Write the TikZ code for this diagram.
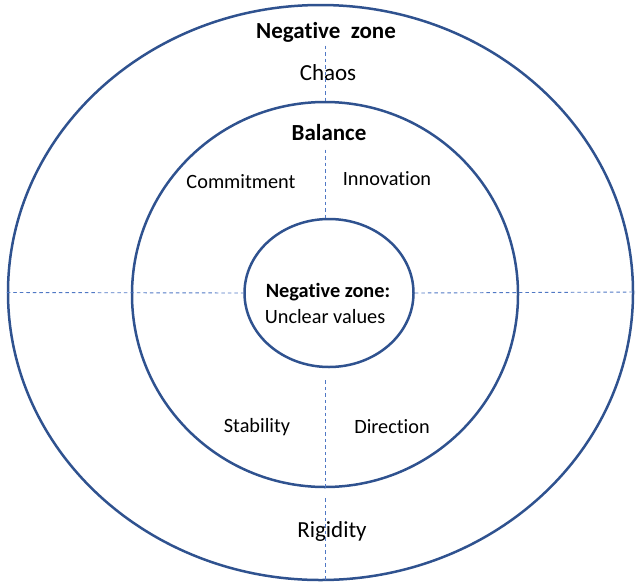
\documentclass[tikz,border=0pt]{standalone}
\usepackage{fontspec}
\setmainfont{Carlito}[Ligatures=NoCommon]
\usetikzlibrary{shapes.geometric}
\definecolor{ringblue}{RGB}{47,82,143}
\definecolor{axisblue}{RGB}{80,120,196}

\begin{document}
\begin{tikzpicture}[x=1pt,y=-1pt]

\tikzset{ring/.style = {shape=ellipse,draw=ringblue,line width=2.5pt,inner sep=0pt}}
\tikzset{axis/.style = {draw=axisblue,line width=0.9pt,dash pattern=on 3.5pt off 3pt}}
\tikzset{zone/.style = {font=\fontsize{23}{28}\selectfont\bfseries,text=black}}
\tikzset{outerword/.style = {font=\fontsize{23}{28}\selectfont,text=black}}
\tikzset{word/.style = {font=\fontsize{20.3}{24}\selectfont,text=black}}
\useasboundingbox (0,0) rectangle (636,581);
%rings
\node[ring, minimum width=625pt, minimum height=575pt] (outer) at (320.5,292.5) {};
\node[ring, minimum width=386pt, minimum height=385pt] (middle) at (325,294.5) {};
\node[ring, minimum width=169pt, minimum height=148pt] (inner) at (329,293) {};
%labels
\node[zone] (top) at (326,32) {Negative\ \ zone};
\node[outerword] (chaos) at (328,73) {Chaos};
\node[zone] (balance) at (329,133) {Balance};
\node[word] (commit) at (241,182) {Commitment};
\node[word] (innov) at (387,179) {Innovation};
\node[word, font=\fontsize{20.3}{24}\selectfont\bfseries] (corehead) at (328,292) {Negative zone:};
\node[word] (corevalue) at (325,317) {Unclear\ values};
\node[word] (stab) at (257,427) {Stability};
\node[word] (dir) at (392,427) {Direction};
\node[outerword] (rigid) at (332,531) {Rigidity};
\coordinate (edge) at (636,292);
%axes
\draw [axis] (top.south -| middle.north) -- (middle.north);
\draw [axis, shorten <=5pt] (balance.south -| middle.north) -- (inner.north -| middle.north);
\draw [axis, shorten <=12pt] (inner.south -| middle.south) -- (middle.south);
\draw [axis, shorten <=10pt] (middle.south) -- (outer.south -| middle.south);
\draw [axis] (outer.west) -- (inner.west);
\draw [axis] (inner.east) -- (edge);

\end{tikzpicture}
\end{document}
